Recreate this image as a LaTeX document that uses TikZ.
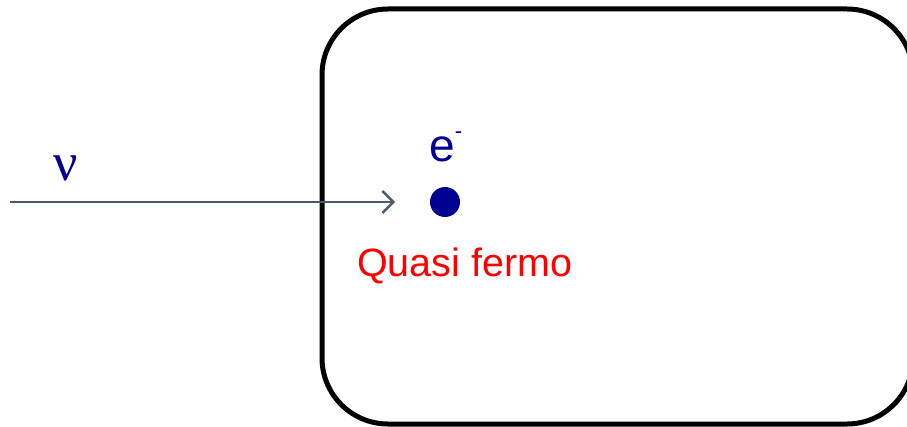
\documentclass[tikz,border=0pt]{standalone}
\usepackage{fontspec}
\setmainfont{Liberation Sans}
\newfontfamily\serifgreek{Liberation Serif}
\usetikzlibrary{arrows.meta}
\definecolor{navyblue}{RGB}{0,0,145}
\definecolor{arrowgray}{RGB}{75,90,108}
\begin{document}
\begin{tikzpicture}[x=1pt,y=-1pt,
  boxstyle/.style={draw=black,line width=5pt,rounded corners=66pt},
  beam/.style={draw=arrowgray,line width=2.4pt,-{Straight Barb[length=11pt,width=22pt,line width=2.4pt]}},
  lbl/.style={inner sep=0pt,anchor=base west}]
\useasboundingbox (0,0) rectangle (907,427);
\draw[boxstyle] (322,9) rectangle (913,424);
\node[circle,fill=navyblue,minimum size=30pt,inner sep=0pt] (dot) at (445,202) {};
\coordinate (src) at (10,202);
\coordinate (tip) at (395,202);
\draw[beam] (src) -- (tip);
\node[lbl,text=navyblue,font=\fontsize{46}{52}\selectfont] (e) at (429,162) {e\raisebox{0.5em}{\fontsize{22}{26}\selectfont -}};
\node[lbl,text=navyblue,font=\serifgreek\fontsize{54}{60}\selectfont] (nu) at (53,181) {ν};
\node[lbl,text=red,font=\fontsize{39.5}{46}\selectfont] (qf) at (357,277) {Quasi fermo};
\end{tikzpicture}
\end{document}
